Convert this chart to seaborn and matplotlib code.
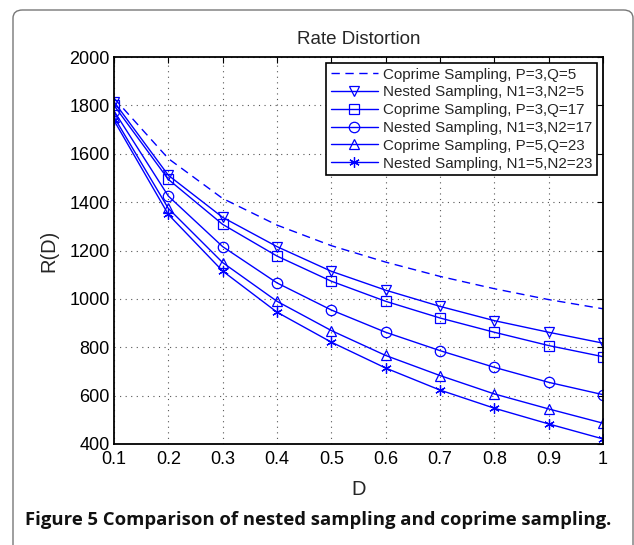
import matplotlib
matplotlib.use('Agg')
import matplotlib.pyplot as plt
from matplotlib.patches import FancyBboxPatch
import seaborn as sns
import pandas as pd

# ── Data ─────────────────────────────────────────────────────────────────────
D = [0.1, 0.2, 0.3, 0.4, 0.5, 0.6, 0.7, 0.8, 0.9, 1.0]

coprime_3_5   = [1830, 1580, 1415, 1305, 1220, 1152, 1093, 1042, 997, 959]
nested_3_5    = [1815, 1511, 1337, 1216, 1114, 1036, 969, 910, 862, 817]
coprime_3_17  = [1800, 1494, 1308, 1177, 1073, 990, 921, 862, 807, 761]
nested_3_17   = [1777, 1425, 1216, 1066, 954, 862, 786, 717, 655, 604]
coprime_5_23  = [1752, 1374, 1150, 990, 869, 766, 683, 607, 545, 486]
nested_5_23   = [1738, 1349, 1115, 945, 821, 714, 623, 548, 483, 421]

LABELS = ['Coprime Sampling, P=3,Q=5', 'Nested Sampling, N1=3,N2=5',
          'Coprime Sampling, P=3,Q=17', 'Nested Sampling, N1=3,N2=17',
          'Coprime Sampling, P=5,Q=23', 'Nested Sampling, N1=5,N2=23']
SERIES = [coprime_3_5, nested_3_5, coprime_3_17, nested_3_17, coprime_5_23, nested_5_23]
MARKERS = [None, 'v', 's', 'o', '^', (6, 2, 0)]
STYLES = [(0, (6, 4)), '-', '-', '-', '-', '-']

BLUE = '#0000ff'

sns.set_style('white')
plt.rcParams['font.family'] = ['Liberation Sans', 'DejaVu Sans']

fig = plt.figure(figsize=(6.34, 5.45), dpi=100)
ax = fig.add_axes([114/634, 1 - 444/545, (603 - 114)/634, (444 - 57)/545])

for vals, lab, mk, ls in zip(SERIES, LABELS, MARKERS, STYLES):
    df = pd.DataFrame({'D': D, 'R': vals})
    kw = dict(marker=mk, markersize=7.5, markerfacecolor='none',
              markeredgecolor=BLUE, markeredgewidth=0.9) if mk is not None else {}
    sns.lineplot(data=df, x='D', y='R', ax=ax, color=BLUE, linestyle=ls,
                 linewidth=1.0, label=lab, **kw)

ax.set_xlim(0.1, 1.0)
ax.set_ylim(400, 2000)
ax.set_xticks(D)
ax.set_xticklabels(['0.1', '0.2', '0.3', '0.4', '0.5', '0.6', '0.7', '0.8', '0.9', '1'])
ax.set_yticks(range(400, 2001, 200))
ax.tick_params(direction='in', length=4, width=0.8, labelsize=13,
               top=True, right=True, colors='black')
ax.tick_params(axis='x', pad=5)
ax.tick_params(axis='y', pad=3)
ax.grid(True, linestyle=(0, (1, 4)), color='#555555', linewidth=0.8)
for sp in ax.spines.values():
    sp.set_visible(True)
    sp.set_color('black')
    sp.set_linewidth(1.3)

ax.set_title('Rate Distortion', fontsize=13.5, pad=9)
ax.set_xlabel('D', fontsize=14.5, labelpad=9)
ax.set_ylabel('R(D)', fontsize=14.5, labelpad=8)

leg = ax.legend(loc='upper right', fontsize=10.9, frameon=True, fancybox=False,
                edgecolor='black', borderaxespad=0.4, borderpad=0.3,
                labelspacing=0.25, handlelength=3.1, handletextpad=0.35)
leg.get_frame().set_linewidth(1.2)
leg.get_frame().set_alpha(1)

# caption and outer frame
fig.text(25/634, 1 - 520/545, 'Figure 5 Comparison of nested sampling and coprime sampling.',
         fontsize=13.3, fontweight='bold', family=['Open Sans', 'DejaVu Sans'],
         va='center', ha='left', color='#111111')
frame = FancyBboxPatch((13/634, -0.2), (633 - 13)/634, 1 - 10/545 + 0.2,
                       boxstyle='round,pad=0,rounding_size=0.015',
                       transform=fig.transFigure, facecolor='none',
                       edgecolor='#777777', linewidth=1.0, clip_on=False)
fig.add_artist(frame)

fig.savefig('out.png', dpi=100, facecolor='white')
